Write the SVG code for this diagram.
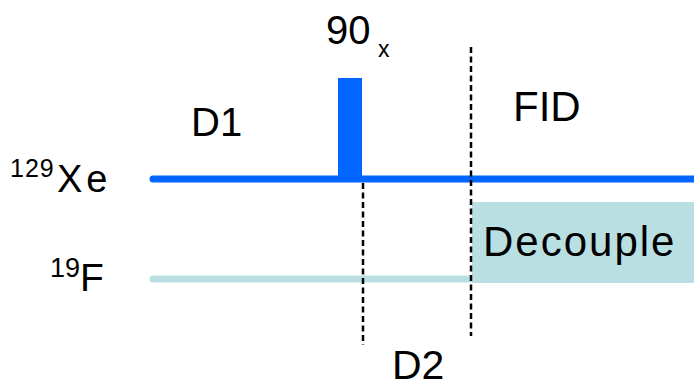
<svg xmlns="http://www.w3.org/2000/svg" width="694" height="381" viewBox="0 0 694 381">
<style>
text{font-family:"Liberation Sans",Arial,sans-serif;fill:#000}
.dash{stroke:#000;stroke-width:2.5;stroke-dasharray:6,3.5;fill:none}
.xe{stroke:#0066ff;stroke-width:7;stroke-linecap:round;fill:none}
.f{stroke:#b9dfe3;stroke-width:7;stroke-linecap:round;fill:none}
</style>
<rect width="694" height="381" fill="#fff"/>
<g id="decouple">
<rect x="472" y="202" width="222" height="81" fill="#b9dfe3"/>
<text x="483" y="256" font-size="42" letter-spacing="2">Decouple</text>
</g>
<g id="xe-channel">
<line class="xe" x1="153" y1="179" x2="700" y2="179"/>
<rect x="338" y="78" width="24" height="101" fill="#0066ff"/>
<text x="10" y="177" font-size="25" letter-spacing="1">129</text>
<text x="57" y="192" font-size="38" letter-spacing="4">Xe</text>
</g>
<g id="f-channel">
<line class="f" x1="153" y1="279" x2="472" y2="279"/>
<text x="50" y="277" font-size="27">19</text>
<text x="80" y="291" font-size="39">F</text>
</g>
<g id="labels">
<text x="191" y="136" font-size="40">D1</text>
<text x="326" y="44" font-size="40">90</text>
<text x="378" y="57" font-size="23">x</text>
<text x="513" y="121" font-size="42">FID</text>
<text x="392" y="379" font-size="41">D2</text>
</g>
<g id="connectors">
<line class="dash" x1="363" y1="183" x2="363" y2="345"/>
<line class="dash" x1="471" y1="47" x2="471" y2="336"/>
</g>
</svg>
